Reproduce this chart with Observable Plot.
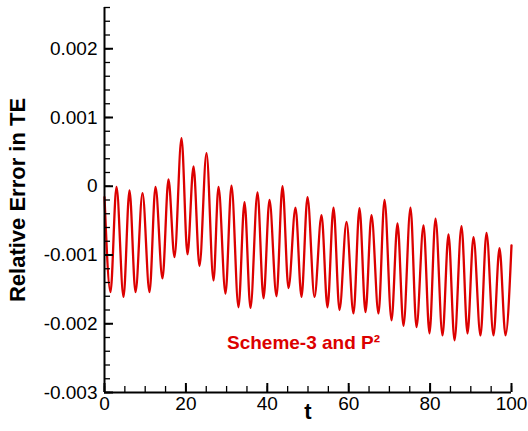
<!DOCTYPE html>
<html><head><meta charset="utf-8">
<script src="https://cdn.jsdelivr.net/npm/d3@7"></script>
<script src="https://cdn.jsdelivr.net/npm/@observablehq/plot@0.6"></script>
<style>html,body{margin:0;padding:0;background:#fff;}</style>
</head><body><div id="chart"></div>
<script>
// time values (peaks and troughs)
const tValues = [0, 1.47, 2.95, 4.67, 6.14, 7.62, 9.34, 11.06, 12.53, 14.25, 15.72, 17.20, 18.92, 20.39, 21.87, 23.34,
  25.06, 26.78, 28.01, 29.73, 31.20, 32.92, 34.40, 35.87, 37.59, 39.07, 40.54, 42.26, 43.73, 45.21, 46.93, 48.40,
  49.88, 51.60, 53.32, 54.79, 56.27, 57.74, 59.46, 61.18, 62.65, 64.13, 65.60, 67.32, 68.80, 70.52, 71.99, 73.46,
  75.18, 76.66, 78.38, 79.85, 81.33, 83.05, 84.52, 86.00, 87.71, 89.19, 90.66, 92.38, 93.86, 95.58, 97.05, 98.53, 100];
const errValues = [-0.00016, -0.00154, -0.00001, -0.00161, -0.00006, -0.00154, -0.00010, -0.00154, -0.00001, -0.00134, 0.00010, -0.00103, 0.00070, -0.00099, 0.00029, -0.00116,
  0.00048, -0.00137, -0.00001, -0.00156, 0.00001, -0.00176, -0.00023, -0.00177, -0.00009, -0.00163, -0.00020, -0.00160, 0.00000, -0.00148, -0.00031, -0.00161,
  -0.00016, -0.00161, -0.00042, -0.00176, -0.00031, -0.00180, -0.00052, -0.00185, -0.00032, -0.00183, -0.00042, -0.00185, -0.00020, -0.00195, -0.00054, -0.00203,
  -0.00031, -0.00205, -0.00057, -0.00214, -0.00047, -0.00217, -0.00070, -0.00224, -0.00058, -0.00214, -0.00074, -0.00217, -0.00068, -0.00217, -0.00090, -0.00217, -0.00086];

const xDomain = [0, 100];
const yDomain = [-0.003, 0.0026];
const xTicks = [0, 20, 40, 60, 80, 100];
const xTickLabels = ["0", "20", "40", "60", "80", "100"];
const xMinorTicks = [0, 5, 10, 15, 20, 25, 30, 35, 40, 45, 50, 55, 60, 65, 70, 75, 80, 85, 90, 95, 100];
const yTicks = [-0.003, -0.002, -0.001, 0, 0.001, 0.002];
const yTickLabels = ["-0.003", "-0.002", "-0.001", "0", "0.001", "0.002"];
const yMinorTicks = d3.range(-15, 14).map(i => i * 0.0002);
const xLabel = "t";
const yLabel = "Relative Error in TE";
const annotation = [{t: 48.9, v: -0.00228, label: "Scheme-3 and P²"}];

const data = tValues.map((t, i) => ({t, v: errValues[i]}));
const red = "#dc0000";

const chart = Plot.plot({
  width: 528, height: 431,
  marginLeft: 104, marginRight: 17, marginTop: 7, marginBottom: 39,
  style: {fontFamily: "'Liberation Sans', Arial, sans-serif", fontSize: "19px", color: "#000", background: "#fff"},
  x: {domain: xDomain, axis: null},
  y: {domain: yDomain, axis: null},
  marks: [
    Plot.line(data, {x: "t", y: "v", stroke: red, strokeWidth: 2.3, curve: "monotone-x"}),
    Plot.axisX({ticks: xMinorTicks, tickSize: -6, text: null, label: null, strokeWidth: 1.3}),
    Plot.axisX({ticks: xTicks, tickSize: -9, text: null, label: null, strokeWidth: 2}),
    Plot.axisY({ticks: yMinorTicks, tickSize: -6, text: null, label: null, strokeWidth: 1.3}),
    Plot.axisY({ticks: yTicks, tickSize: -9, text: null, label: null, strokeWidth: 2}),
    Plot.text(xTicks, {x: d => d, frameAnchor: "bottom", text: (d, i) => xTickLabels[i], lineAnchor: "top", dy: 4, fontSize: 19}),
    Plot.text(yTicks, {y: d => d, frameAnchor: "left", text: (d, i) => yTickLabels[i], textAnchor: "end", lineAnchor: "middle", dx: -7, fontSize: 19}),
    Plot.ruleX([xDomain[0]], {stroke: "#000", strokeWidth: 2}),
    Plot.ruleY([yDomain[0]], {stroke: "#000", strokeWidth: 2}),
    Plot.text([xLabel], {frameAnchor: "bottom", text: d => d, dy: 19, lineAnchor: "middle", fontWeight: "bold", fontSize: 22}),
    Plot.text([yLabel], {frameAnchor: "left", text: d => d, rotate: -90, dx: -87, textAnchor: "middle", lineAnchor: "middle", fontWeight: "bold", fontSize: 22}),
    Plot.text(annotation, {x: "t", y: "v", text: "label", fill: red, fontWeight: "bold", fontSize: 19})
  ]
});
document.getElementById("chart").appendChild(chart);
</script>
</body></html>
